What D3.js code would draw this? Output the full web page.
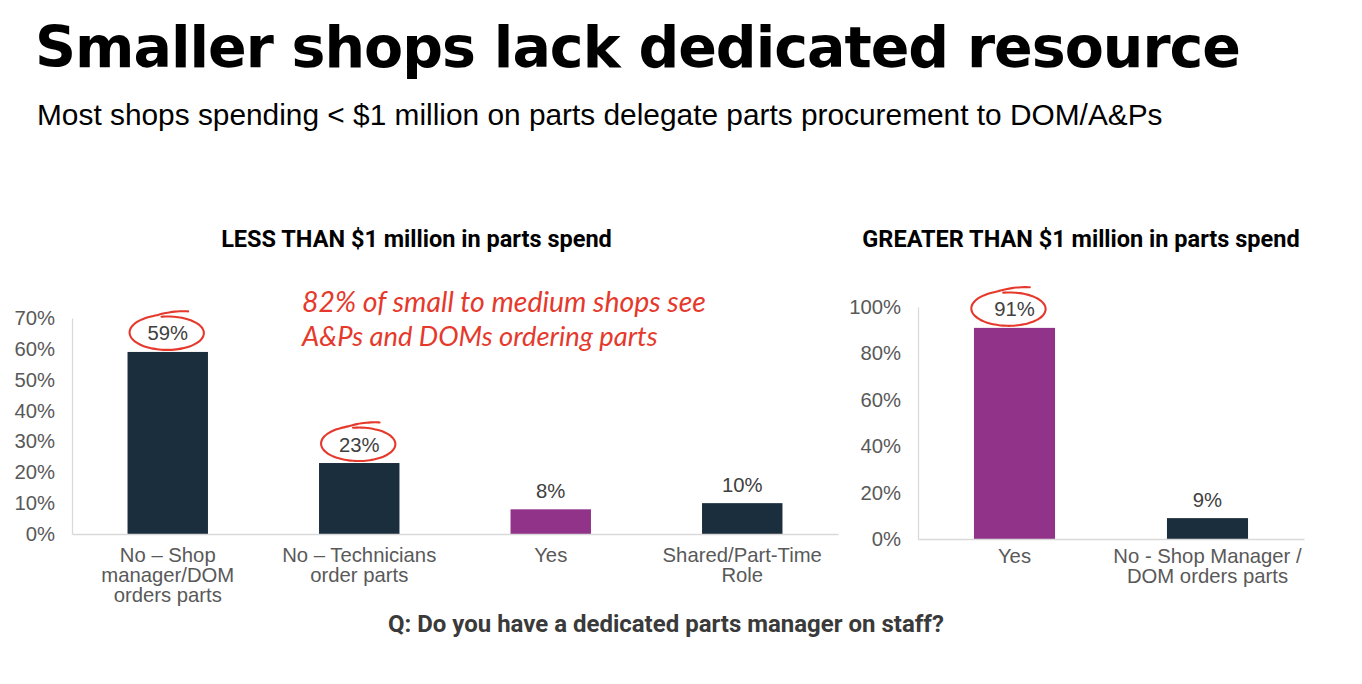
<!DOCTYPE html>
<html>
<head>
<meta charset="utf-8">
<script src="https://cdn.jsdelivr.net/npm/d3@7"></script>
<style>
  body { margin: 0; background: #fff; }
  svg { display: block; }
</style>
</head>
<body>
<div id="chart"></div>
<script>
// data
const leftCategories = ["No – Shop\nmanager/DOM\norders parts", "No – Technicians\norder parts", "Yes", "Shared/Part-Time\nRole"];
const leftValues = [0.59, 0.23, 0.08, 0.10];
const leftCircled = [true, true, false, false];
const leftTicks = [0, 0.1, 0.2, 0.3, 0.4, 0.5, 0.6, 0.7];

const rightCategories = ["Yes", "No - Shop Manager /\nDOM orders parts"];
const rightValues = [0.91, 0.09];
const rightCircled = [true, false];
const rightTicks = [0, 0.2, 0.4, 0.6, 0.8, 1.0];

const width = 1362;
const height = 684;

const navy = "#1b2e3e";
const purple = "#92338a";
const red = "#e5392c";
const pct = d3.format(".0%");
const sans = "Liberation Sans, Arial, sans-serif";

const svg = d3.select("#chart").append("svg")
    .attr("width", width)
    .attr("height", height);

// scale font-size so text spans a given width
function fit(sel, w) {
    const size = parseFloat(sel.attr("font-size"));
    const len = sel.node().getComputedTextLength();
    sel.attr("font-size", size * w / len);
    return size * w / len;
}

// keep the size, stretch with letter spacing instead
function spread(sel, w) {
    const len = sel.node().getComputedTextLength();
    const n = sel.text().length;
    sel.attr("letter-spacing", (w - len) / n);
}

// headings
const title = svg.append("text")
    .attr("x", 35).attr("y", 67)
    .attr("font-family", "DejaVu Sans")
    .attr("font-weight", 700)
    .attr("font-size", 57)
    .attr("fill", "#000")
    .text("Smaller shops lack dedicated resource");
spread(title, 1205);

const sub = svg.append("text")
    .attr("x", 37).attr("y", 125)
    .attr("font-family", sans)
    .attr("font-size", 28)
    .attr("fill", "#000")
    .text("Most shops spending < $1 million on parts delegate parts procurement to DOM/A&Ps");
fit(sub, 1126);

/**
 * draws one bar chart panel
 */
function drawPanel(cfg) {
    const x = d3.scaleBand()
        .domain(cfg.categories)
        .range([cfg.x0, cfg.x1])
        .paddingInner(0.58)
        .paddingOuter(0.29);
    const y = d3.scaleLinear()
        .domain([0, cfg.max])
        .range([cfg.base, cfg.top]);

    const g = svg.append("g");

    // y axis
    const ya = g.append("g")
        .attr("transform", "translate(" + cfg.x0 + ",0)")
        .call(d3.axisLeft(y).tickValues(cfg.ticks).tickFormat(pct).tickSize(0).tickSizeOuter(0).tickPadding(17));
    ya.select(".domain").attr("stroke", "#d9d9d9").attr("stroke-width", 1.3);
    ya.selectAll("text")
        .attr("font-family", sans)
        .attr("font-size", 20.3)
        .attr("fill", "#595959");

    // bars
    g.selectAll("rect.bar")
        .data(cfg.values)
        .join("rect")
        .attr("class", "bar")
        .attr("x", (d, i) => x(cfg.categories[i]))
        .attr("y", d => y(d))
        .attr("width", x.bandwidth())
        .attr("height", d => y(0) - y(d))
        .attr("fill", (d, i) => cfg.categories[i] === "Yes" ? purple : navy);

    // x axis line
    const xa = g.append("g")
        .attr("transform", "translate(0," + cfg.base + ")")
        .call(d3.axisBottom(x).tickSize(0).tickSizeOuter(0).tickFormat(""));
    xa.select(".domain").attr("stroke", "#d9d9d9").attr("stroke-width", 1.3);

    // category labels, multi-line
    cfg.categories.forEach(c => {
        const t = g.append("text")
            .attr("text-anchor", "middle")
            .attr("font-family", sans)
            .attr("font-size", 20.3)
            .attr("fill", "#595959");
        c.split("\n").forEach((line, k) => {
            t.append("tspan")
                .attr("x", x(c) + x.bandwidth() / 2)
                .attr("y", cfg.base + cfg.labelOffset + k * 20)
                .text(line);
        });
    });

    // value labels
    g.selectAll("text.val")
        .data(cfg.values)
        .join("text")
        .attr("class", "val")
        .attr("x", (d, i) => x(cfg.categories[i]) + x.bandwidth() / 2)
        .attr("y", d => y(d) - 11.5)
        .attr("text-anchor", "middle")
        .attr("font-family", sans)
        .attr("font-size", 20.3)
        .attr("fill", "#404040")
        .text(d => pct(d));

    // hand drawn red rings around highlighted labels
    cfg.values.forEach((d, i) => {
        if (!cfg.circled[i]) return;
        const cx = x(cfg.categories[i]) + x.bandwidth() / 2 + cfg.ringShift;
        const cy = y(d) - 19;
        const pts = d3.range(0, 1.0001, 1 / 60).map(t => {
            const a = (-100 + t * 400) * Math.PI / 180;
            const s = 0.97 + 0.13 * t * t;
            const lift = t > 0.88 ? (t - 0.88) * 45 : 0;
            return [cx + 37 * s * Math.cos(a), cy + 17 * s * Math.sin(a) - lift];
        });
        g.append("path")
            .attr("d", d3.line().curve(d3.curveBasis)(pts))
            .attr("fill", "none")
            .attr("stroke", red)
            .attr("stroke-width", 2.1)
            .attr("stroke-linecap", "round");
    });
}

drawPanel({
    categories: leftCategories, values: leftValues, circled: leftCircled, ticks: leftTicks,
    max: 0.7, x0: 72, x1: 838, base: 534, top: 318, labelOffset: 28, ringShift: 0
});

drawPanel({
    categories: rightCategories, values: rightValues, circled: rightCircled, ticks: rightTicks,
    max: 1, x0: 918, x1: 1304, base: 539, top: 307, labelOffset: 24, ringShift: -5
});

// panel titles
const lt = svg.append("text")
    .attr("x", 416.5).attr("y", 247)
    .attr("text-anchor", "middle")
    .attr("font-family", "Roboto")
    .attr("font-weight", 700)
    .attr("font-size", 20)
    .attr("fill", "#000")
    .text("LESS THAN $1 million in parts spend");
const ptSize = fit(lt, 391);

svg.append("text")
    .attr("x", 1081).attr("y", 247)
    .attr("text-anchor", "middle")
    .attr("font-family", "Roboto")
    .attr("font-weight", 700)
    .attr("font-size", ptSize)
    .attr("fill", "#000")
    .text("GREATER THAN $1 million in parts spend");

// red callout
const note1 = svg.append("text")
    .attr("x", 302).attr("y", 312)
    .attr("font-family", "Lato")
    .attr("font-style", "italic")
    .attr("font-size", 25.5)
    .attr("fill", red)
    .text("82% of small to medium shops see");
fit(note1, 404);

const note2 = svg.append("text")
    .attr("x", 302).attr("y", 346)
    .attr("font-family", "Lato")
    .attr("font-style", "italic")
    .attr("font-size", 25.5)
    .attr("fill", red)
    .text("A&Ps and DOMs ordering parts");
fit(note2, 356);

// question footer
const q = svg.append("text")
    .attr("x", 388).attr("y", 632)
    .attr("font-family", "Roboto")
    .attr("font-weight", 700)
    .attr("font-size", 20)
    .attr("fill", "#3a3a3a")
    .text("Q: Do you have a dedicated parts manager on staff?");
fit(q, 556);
</script>
</body>
</html>
